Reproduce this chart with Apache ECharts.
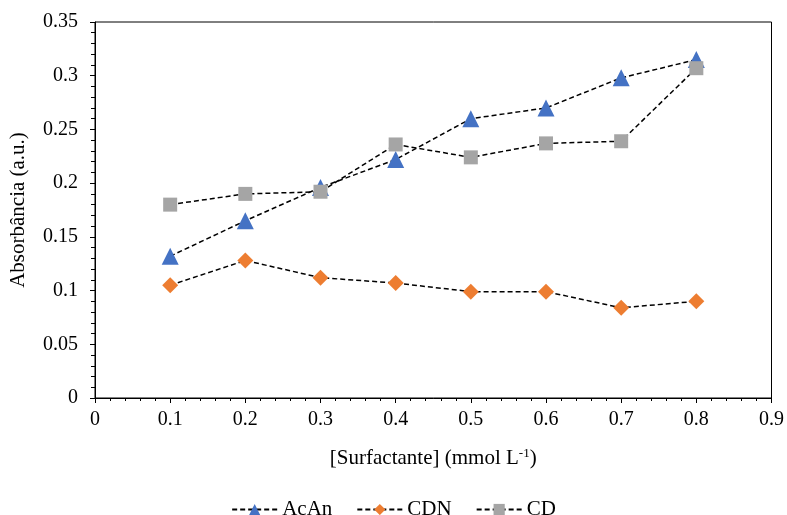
<!DOCTYPE html>
<html><head><meta charset="utf-8">
<script src="https://cdn.jsdelivr.net/npm/echarts@6/dist/echarts.min.js"></script>
<style>html,body{margin:0;padding:0;background:#fff}#c{width:787px;height:515px}</style>
</head><body><div id="c"></div>
<script>
const xValues = [0.1, 0.2, 0.3, 0.4, 0.5, 0.6, 0.7, 0.8];
const acAn = [0.132, 0.165, 0.196, 0.222, 0.260, 0.270, 0.298, 0.315];
const cdn = [0.105, 0.128, 0.112, 0.107, 0.099, 0.099, 0.084, 0.090];
const cd = [0.180, 0.190, 0.192, 0.236, 0.224, 0.237, 0.239, 0.307];
const seriesNames = ['AcAn', 'CDN', 'CD'];

const font = 'Liberation Serif, Times New Roman, serif';
const pair = arr => xValues.map((x, i) => [x, arr[i]]);
const lineStyle = {color: '#000', type: [5, 3], width: 1.5};

const chart = echarts.init(document.getElementById('c'));
chart.setOption({
  animation: false,
  backgroundColor: '#fff',
  grid: {left: 95, right: 14, top: 22, bottom: 117, show: true, borderColor: '#000', borderWidth: 1},
  xAxis: {
    type: 'value', min: 0, max: 0.9, interval: 0.1,
    name: '{n|[Surfactante] (mmol L}{s|-1}{n|)}',
    nameLocation: 'middle', nameGap: 49,
    nameTextStyle: {rich: {n: {fontFamily: font, fontSize: 21, color: '#000'}, s: {fontFamily: font, fontSize: 13, color: '#000', verticalAlign: 'top', padding: [0, 0, 9, 0]}}},
    axisLine: {lineStyle: {color: '#000', width: 1}},
    axisTick: {show: true, length: 5, lineStyle: {color: '#000'}},
    minorTick: {show: true, splitNumber: 5, length: 3, lineStyle: {color: '#000'}},
    splitLine: {show: false},
    axisLabel: {fontFamily: font, fontSize: 20, color: '#000', margin: 12,
      formatter: v => Number(v.toFixed(2)).toString()}
  },
  yAxis: {
    type: 'value', min: 0, max: 0.35, interval: 0.05,
    name: 'Absorbância (a.u.)', nameLocation: 'middle', nameGap: 66,
    nameTextStyle: {fontFamily: font, fontSize: 21, color: '#000'},
    axisLine: {show: true, lineStyle: {color: '#000', width: 1}},
    axisTick: {show: true, length: 5, lineStyle: {color: '#000'}},
    minorTick: {show: true, splitNumber: 5, length: 4, lineStyle: {color: '#000'}},
    splitLine: {show: false},
    axisLabel: {fontFamily: font, fontSize: 20, color: '#000', margin: 17,
      formatter: v => Number(v.toFixed(2)).toString()}
  },
  legend: {
    top: 494, left: 'center', itemWidth: 45, itemHeight: 14, itemGap: 24,
    textStyle: {fontFamily: font, fontSize: 21, color: '#000'},
    data: seriesNames
  },
  series: [
    {name: seriesNames[0], type: 'line', data: pair(acAn), symbol: 'triangle', symbolSize: 17,
      itemStyle: {color: '#4472C4'}, lineStyle: lineStyle, z: 3},
    {name: seriesNames[1], type: 'line', data: pair(cdn), symbol: 'diamond', symbolSize: 16,
      itemStyle: {color: '#ED7D31'}, lineStyle: lineStyle, z: 3},
    {name: seriesNames[2], type: 'line', data: pair(cd), symbol: 'rect', symbolSize: 14,
      itemStyle: {color: '#A5A5A5'}, lineStyle: lineStyle, z: 4}
  ]
});
</script></body></html>
